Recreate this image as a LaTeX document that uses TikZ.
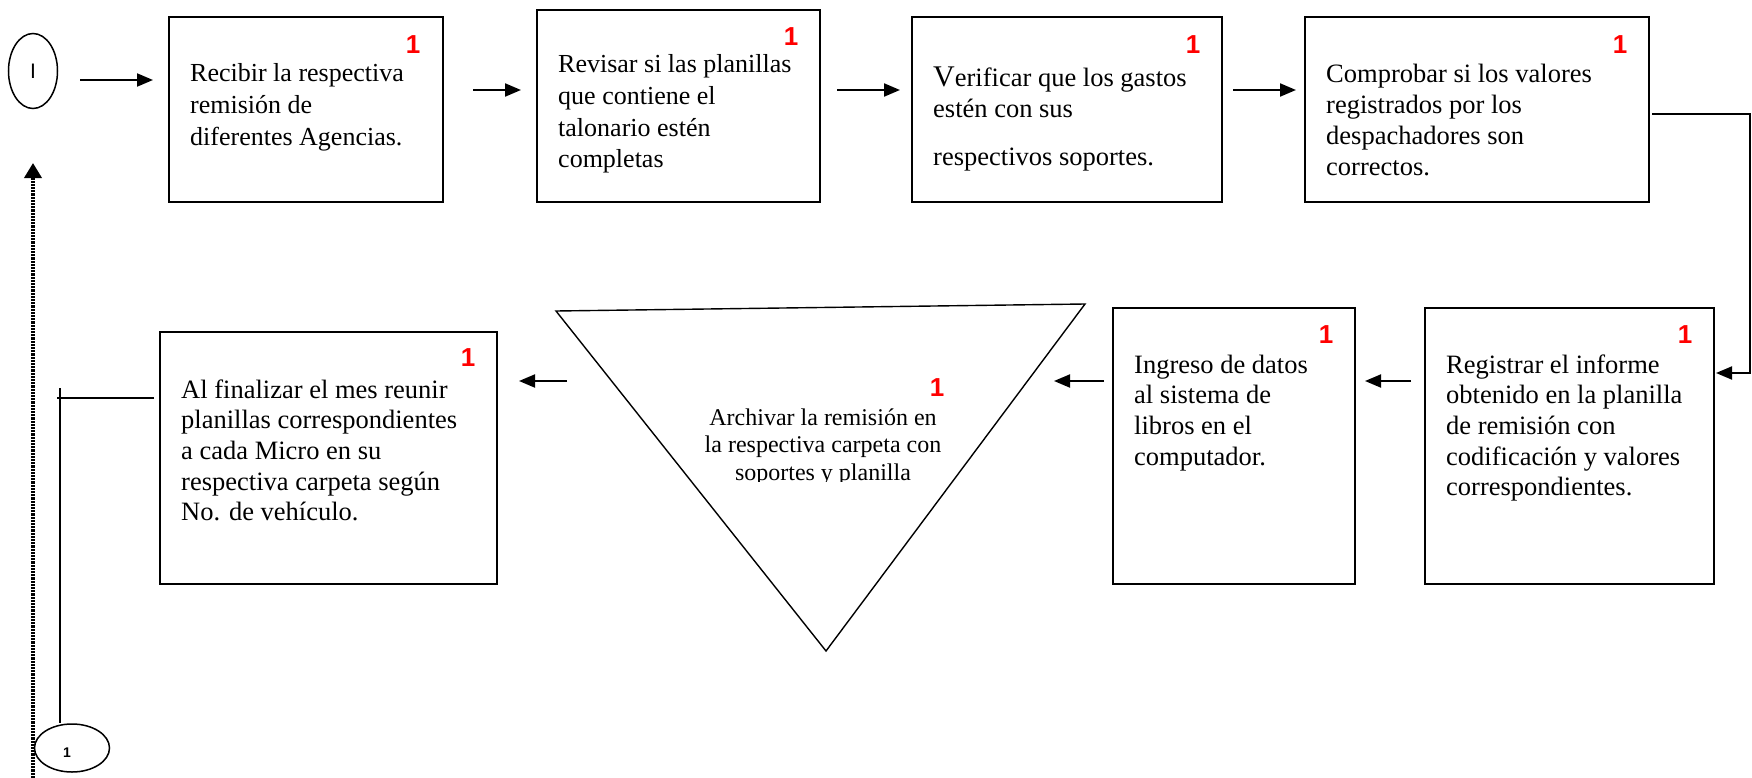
\documentclass[tikz,border=0pt]{standalone}
\usepackage{fontspec}
\setmainfont{Liberation Serif}
\newfontfamily\sansfont{Liberation Sans}
\usetikzlibrary{arrows.meta,shapes.geometric}

% text settings for the step boxes
\newcommand\wideset{\fontsize{26bp}{31.5bp}\selectfont}
\newcommand\normset{\fontsize{26.5bp}{30.7bp}\selectfont}
\newcommand\steptext[2]{\parbox[t]{330bp}{\raggedright#1#2}}

\tikzset{
  stepbox/.style={draw, line width=2.2bp, inner sep=0pt, outer sep=0pt},
  terminal/.style={draw, ellipse, line width=1.5bp, inner sep=0pt},
  redmark/.style={text=red, inner sep=0pt,
    font=\sansfont\bfseries\fontsize{26bp}{26bp}\selectfont},
  txt/.style={inner sep=0pt, anchor=base west},
  flow/.style={line width=2bp, -{Triangle[length=16bp,width=13bp]}},
  plainline/.style={line width=1.8bp},
  loopback/.style={line width=3.6bp, dash pattern=on 2.2bp off 1bp,
    -{Triangle[length=15bp,width=17bp]}},
}

\begin{document}
\begin{tikzpicture}[x=1bp,y=-1bp]
\useasboundingbox (0,0) rectangle (1752,778);

% connectors' start and end symbols
\node[terminal, minimum width=49bp, minimum height=75bp,
  font=\sansfont\fontsize{21bp}{21bp}\selectfont] (start) at (33,71) {I};
\node[terminal, minimum width=75bp, minimum height=48bp] (stop) at (72,748) {};
\node[inner sep=0pt, font=\sansfont\bfseries\fontsize{14bp}{14bp}\selectfont]
  (stopnum) at (67,753) {1};

% upper row of steps
\node[stepbox, minimum width=274bp, minimum height=185bp] (b1) at (306,109.5) {};
\node[stepbox, minimum width=283bp, minimum height=192bp] (b2) at (678.5,106) {};
\node[stepbox, minimum width=310bp, minimum height=185bp] (b3) at (1067,109.5) {};
\node[stepbox, minimum width=344bp, minimum height=185bp] (b4) at (1477,109.5) {};

\node[txt] (t1) at (190,82) {\steptext{\wideset}{Recibir la respectiva\\remisión de\\diferentes Agencias.}};
\node[txt] (t2) at (558,73) {\steptext{\wideset}{Revisar si las planillas\\que contiene el\\talonario estén\\completas}};
\node[txt] (t3) at (933,87) {\steptext{\normset}{{\fontsize{30bp}{30.7bp}\selectfont V}erificar que los gastos\\estén con sus\\[17bp]respectivos soportes.}};
\node[txt] (t4) at (1326,83) {\steptext{\normset}{Comprobar si los valores\\registrados por los\\despachadores son\\correctos.}};

% lower row of steps
\node[stepbox, minimum width=289bp, minimum height=276bp] (b8) at (1569.5,446) {};
\node[stepbox, minimum width=242bp, minimum height=276bp] (b7) at (1234,446) {};
\node[stepbox, minimum width=337bp, minimum height=252bp] (b5) at (328.5,458) {};

\node[txt] (t8) at (1446,373) {\steptext{\normset}{Registrar el informe\\obtenido en la planilla\\de remisión con\\codificación y valores\\correspondientes.}};
\node[txt] (t7) at (1134,373) {\steptext{\normset}{Ingreso de datos\\al sistema de\\libros en el\\computador.}};
\node[txt] (t5) at (181,398) {\steptext{\normset}{Al finalizar el mes reunir\\planillas correspondientes\\a cada Micro en su\\respectiva carpeta según\\No. de vehículo.}};

% archive symbol
\coordinate (tA) at (556,311);
\coordinate (tB) at (1085,304);
\coordinate (tC) at (826,651);
\draw[line width=1.4bp, line join=miter] (tA) -- (tB) -- (tC) -- cycle;
\begin{scope}
  \clip (600,390) rectangle (1050,481);
  \node[inner sep=0pt, anchor=base] (t6) at (823,425)
    {\parbox[t]{400bp}{\centering\fontsize{24bp}{27.7bp}\selectfont
      Archivar la remisión en\\la respectiva carpeta con\\soportes y planilla}};
\end{scope}

% red step markers
\node[redmark] (m1) at (413,45) {1};
\node[redmark] (m2) at (791,37) {1};
\node[redmark] (m3) at (1193,45) {1};
\node[redmark] (m4) at (1620,45) {1};
\node[redmark] (m8) at (1685,335) {1};
\node[redmark] (m7) at (1326,335) {1};
\node[redmark] (m6) at (937,388) {1};
\node[redmark] (m5) at (468,358) {1};

% arrow end points
\coordinate (a0s) at (80,80);    \coordinate (a0e) at (153,80);
\coordinate (a1s) at (473,90);   \coordinate (a1e) at (521,90);
\coordinate (a2s) at (837,90);   \coordinate (a2e) at (900,90);
\coordinate (a3s) at (1233,90);  \coordinate (a3e) at (1296,90);
\coordinate (a4s) at (1652,114); \coordinate (a4e) at (1716,373);
\coordinate (rail) at (1750,0);
\coordinate (a8s) at (1411,381); \coordinate (a8e) at (1365,381);
\coordinate (a7s) at (1104,381); \coordinate (a7e) at (1054,381);
\coordinate (a6s) at (567,381);  \coordinate (a6e) at (519,381);
\coordinate (a5s) at (154,398);  \coordinate (a5e) at (57,398);
\coordinate (drop) at (60,388);
\coordinate (loopfoot) at (33,778);
\coordinate (loophead) at (33,163);

% connectors
\draw[flow] (a0s) -- (a0e);
\draw[flow] (a1s) -- (a1e);
\draw[flow] (a2s) -- (a2e);
\draw[flow] (a3s) -- (a3e);
\draw[flow, line join=miter] (a4s) -| (rail |- a4e) -- (a4e);
\draw[flow] (a8s) -- (a8e);
\draw[flow] (a7s) -- (a7e);
\draw[flow] (a6s) -- (a6e);
\draw[plainline] (a5s) -- (a5e);
\draw[plainline] (drop) -- (drop |- stop.north);
\draw[loopback] (loopfoot) -- (loophead);
\end{tikzpicture}
\end{document}
